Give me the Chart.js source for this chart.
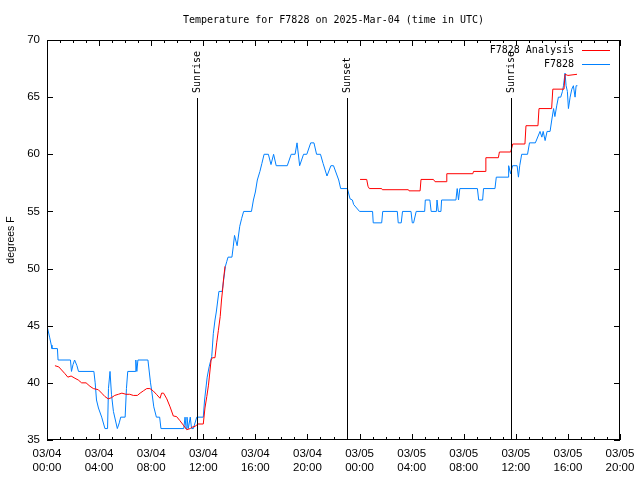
<!DOCTYPE html>
<html>
<head>
<meta charset="utf-8">
<title>Temperature for F7828</title>
<script src="https://cdn.jsdelivr.net/npm/chart.js@4.4.1/dist/chart.umd.min.js"></script>
<style>
  body { margin: 0; background: #fff; }
  canvas { display: block; }
</style>
</head>
<body>
<canvas id="tempChart" width="640" height="480"></canvas>
<script>
// hours since 03/04 00:00 UTC
const blueHours = [0, 0.05, 0.2, 0.33, 0.38, 0.8, 0.85, 1.8, 1.88, 2.0, 2.12, 2.3, 2.42, 3.6, 3.7, 3.8, 3.95, 4.2, 4.45, 4.65, 4.72, 4.84, 4.95, 5.1, 5.4, 5.55, 5.66, 6.0, 6.1, 6.2, 6.76, 6.82, 6.9, 6.98, 7.75, 7.95, 8.04, 8.2, 8.4, 8.65, 8.75, 10.5, 10.6, 10.68, 10.75, 10.85, 11.0, 11.1, 11.24, 11.5, 12.0, 12.1, 12.3, 12.45, 12.65, 12.77, 12.9, 13.0, 13.2, 13.45, 13.7, 13.8, 13.9, 14.2, 14.3, 14.4, 14.6, 14.8, 14.95, 15.1, 15.7, 15.85, 16.0, 16.15, 16.35, 16.5, 16.67, 17.0, 17.2, 17.4, 17.6, 18.45, 18.75, 19.05, 19.2, 19.4, 19.7, 19.95, 20.25, 20.5, 20.7, 21.0, 21.2, 21.5, 21.8, 22.0, 22.4, 22.55, 23.07, 23.27, 23.45, 23.55, 24.0, 25.0, 25.05, 25.7, 25.78, 26.9, 26.97, 27.2, 27.3, 27.95, 28.05, 28.15, 28.35, 29.0, 29.05, 29.4, 29.5, 29.9, 29.95, 30.05, 30.25, 30.3, 31.4, 31.5, 31.6, 31.7, 33.05, 33.15, 33.45, 33.52, 34.4, 34.5, 35.4, 35.45, 35.6, 35.75, 36.1, 36.2, 36.3, 36.45, 36.9, 37.05, 37.5, 37.86, 38.0, 38.1, 38.25, 38.4, 38.63, 38.76, 38.9, 39.0, 39.15, 39.27, 39.45, 39.58, 39.66, 39.78, 39.86, 39.96, 40.04, 40.17, 40.3, 40.42, 40.55, 40.63, 40.73];
const blueTemps = [45, 45, 44, 43.3, 43, 43, 42, 42, 41, 41.6, 42, 41.5, 41, 41, 40, 38.5, 37.8, 37, 36, 36, 39.5, 41, 39, 37.5, 36, 36.5, 37, 37, 39.5, 41, 41, 42, 41, 42, 42, 40, 39.3, 37.9, 37, 37, 36, 36, 37, 36, 37, 36, 37, 36, 36, 37, 37, 38.5, 40.5, 41.4, 42.3, 44.3, 45.5, 46.2, 48, 48, 50.2, 50.6, 51, 51, 51.9, 52.9, 52, 53.7, 54.4, 55, 55, 56, 56.7, 57.75, 58.5, 59.2, 60, 60, 59.1, 60, 59, 59, 60, 60, 61, 59, 60, 60, 61, 61, 60, 60, 59.2, 58.1, 59, 59, 57.75, 57, 57, 56.1, 56, 55.6, 55, 55, 54, 54, 55, 55, 54, 54, 55, 55, 54, 54, 55, 55, 56, 56, 55, 55, 56, 55, 55, 56, 56, 57, 56, 57, 57, 56, 56, 57, 57, 58, 58, 59, 58.3, 59, 59, 58, 59, 60, 60, 61, 61, 62, 61.5, 62, 61.2, 62, 62, 63, 64, 63.3, 64.3, 65, 65, 65.5, 66, 67.1, 66, 65.5, 64, 65, 65.7, 66, 65, 66, 66];

// analysis series, null marks the gap in the data
const redHours = [0.61, 0.9, 1.38, 1.6, 1.85, 2.15, 2.4, 2.66, 3.0, 3.3, 3.56, 3.94, 4.2, 4.45, 4.7, 4.95, 5.2, 5.48, 5.75, 6.07, 6.35, 6.63, 6.94, 7.15, 7.4, 7.66, 7.9, 8.15, 8.4, 8.68, 8.8, 8.95, 9.2, 9.45, 9.7, 9.95, 10.2, 10.47, 10.73, 11.0, 11.1, 11.37, 11.6, 12.0, 12.13, 12.27, 12.4, 12.6, 12.7, 12.9, 13.03, 13.16, 13.3, 13.4, 13.5, 13.55, 13.67, 18, 24.04, 24.55, 24.65, 24.75, 25.7, 25.75, 27.75, 27.8, 28.65, 28.72, 29.67, 29.8, 30.65, 30.7, 32.7, 32.75, 33.64, 33.7, 34.66, 34.74, 35.6, 35.7, 35.76, 36.7, 36.78, 37.7, 37.78, 38.75, 38.84, 39.7, 39.78, 40.0, 40.7];
const redTemps = [41.5, 41.4, 40.8, 40.5, 40.6, 40.4, 40.25, 40, 40, 39.7, 39.5, 39.4, 39.1, 38.8, 38.6, 38.7, 38.9, 39, 39.1, 39, 39, 38.9, 38.9, 39.1, 39.3, 39.5, 39.5, 39.3, 39, 38.65, 39.1, 39.1, 38.6, 37.9, 37.1, 37.05, 36.7, 36.3, 35.9, 36, 36.1, 36.2, 36.4, 36.4, 37.8, 38.8, 39.8, 42, 42.2, 42.2, 43.5, 44.6, 45.8, 47.25, 48.3, 49, 50.2, null, 57.8, 57.8, 57.2, 57, 57, 56.9, 56.9, 56.8, 56.8, 57.8, 57.8, 57.6, 57.6, 58.3, 58.3, 58.5, 58.5, 59.7, 59.7, 60.2, 60.2, 60.6, 60.9, 60.9, 62.5, 62.5, 64, 64, 65.7, 65.7, 67, 66.9, 67];

const eventHours = [11.55, 23.0, 35.65];
const eventNames = ['Sunrise', 'Sunset', 'Sunrise'];
const dayLabels = ['03/04', '03/05'];
const seriesNames = ['F7828 Analysis', 'F7828'];
const seriesColors = ['#ff0000', '#0080ff'];

const monoFont = 'DejaVu Sans Mono';
const sansFont = 'Liberation Sans';

function toPoints(xs, ys) {
    return xs.map((x, i) => ({ x: x, y: ys[i] }));
}

// frame, inward tics, sunrise/sunset markers and legend, gnuplot style
const decorations = {
    id: 'decorations',
    afterDatasetsDraw(chart) {
        const ctx = chart.ctx;
        const a = chart.chartArea;
        const xs = chart.scales.x;
        const ys = chart.scales.y;
        ctx.save();
        ctx.strokeStyle = '#000';
        ctx.lineWidth = 1;

        ctx.strokeRect(Math.round(a.left) + 0.5, Math.round(a.top) + 0.5,
            Math.round(a.right - a.left) - 1, Math.round(a.bottom - a.top) - 1);

        ctx.beginPath();
        for (let h = xs.min; h <= xs.max; h++) {
            const px = Math.round(xs.getPixelForValue(h)) + 0.5;
            const len = h % 4 === 0 ? 6 : 3;
            ctx.moveTo(px, a.bottom); ctx.lineTo(px, a.bottom - len);
            ctx.moveTo(px, a.top); ctx.lineTo(px, a.top + len);
        }
        for (let v = ys.min; v <= ys.max; v += 5) {
            const py = Math.round(ys.getPixelForValue(v)) + 0.5;
            ctx.moveTo(a.left, py); ctx.lineTo(a.left + 6, py);
            ctx.moveTo(a.right, py); ctx.lineTo(a.right - 6, py);
        }
        ctx.stroke();

        ctx.font = '10px "' + monoFont + '"';
        ctx.fillStyle = '#000';
        eventHours.forEach((h, i) => {
            const px = Math.round(xs.getPixelForValue(h)) + 0.5;
            ctx.beginPath();
            ctx.moveTo(px, a.top + 58);
            ctx.lineTo(px, a.bottom);
            ctx.stroke();
            ctx.save();
            ctx.translate(px, a.top + 53);
            ctx.rotate(-Math.PI / 2);
            ctx.textAlign = 'left';
            ctx.textBaseline = 'middle';
            ctx.fillText(eventNames[i], 0, 0);
            ctx.restore();
        });

        seriesNames.forEach((name, i) => {
            const y = a.top + 10 + i * 14;
            ctx.textAlign = 'right';
            ctx.textBaseline = 'middle';
            ctx.fillStyle = '#000';
            ctx.fillText(name, a.right - 46, y);
            ctx.strokeStyle = seriesColors[i];
            ctx.lineWidth = 1;
            ctx.beginPath();
            ctx.moveTo(a.right - 38, Math.round(y) + 0.5);
            ctx.lineTo(a.right - 10, Math.round(y) + 0.5);
            ctx.stroke();
        });
        ctx.restore();
    }
};

const ctx = document.getElementById('tempChart').getContext('2d');
const chart = new Chart(ctx, {
    type: 'line',
    data: {
        datasets: [{
            label: seriesNames[0],
            data: toPoints(redHours, redTemps),
            borderColor: seriesColors[0],
            borderWidth: 1,
            pointRadius: 0,
            spanGaps: false,
            tension: 0
        }, {
            label: seriesNames[1],
            data: toPoints(blueHours, blueTemps),
            borderColor: seriesColors[1],
            borderWidth: 1,
            pointRadius: 0,
            tension: 0
        }]
    },
    options: {
        responsive: false,
        devicePixelRatio: 1,
        animation: false,
        layout: { padding: { left: 0, right: 20, top: 0, bottom: 0 } },
        plugins: {
            legend: { display: false },
            tooltip: { enabled: false },
            title: {
                display: true,
                text: 'Temperature for F7828 on 2025-Mar-04 (time in UTC)',
                color: '#000',
                fullSize: false,
                font: { family: monoFont, size: 10, weight: 'normal' },
                padding: { top: 14, bottom: 14 }
            }
        },
        scales: {
            x: {
                type: 'linear',
                min: 0,
                max: 44,
                grid: { display: false, drawTicks: false },
                border: { display: false },
                afterFit: s => { s.height = 40; s.paddingLeft = 0; s.paddingRight = 0; },
                ticks: {
                    stepSize: 4,
                    maxRotation: 0,
                    autoSkip: false,
                    color: '#000',
                    padding: 7,
                    font: { family: sansFont, size: 11.5 },
                    callback: v => [dayLabels[Math.floor(v / 24)], String(v % 24).padStart(2, '0') + ':00']
                }
            },
            y: {
                min: 35,
                max: 70,
                grid: { display: false, drawTicks: false },
                border: { display: false },
                afterFit: s => { s.width = 47; s.paddingTop = 0; s.paddingBottom = 0; },
                ticks: {
                    stepSize: 5,
                    color: '#000',
                    padding: 7,
                    font: { family: sansFont, size: 11.5 }
                },
                title: {
                    display: true,
                    text: 'degrees F',
                    color: '#000',
                    padding: { top: 5, bottom: 0 },
                    font: { family: sansFont, size: 10.5 }
                }
            }
        }
    },
    plugins: [decorations]
});
</script>
</body>
</html>
